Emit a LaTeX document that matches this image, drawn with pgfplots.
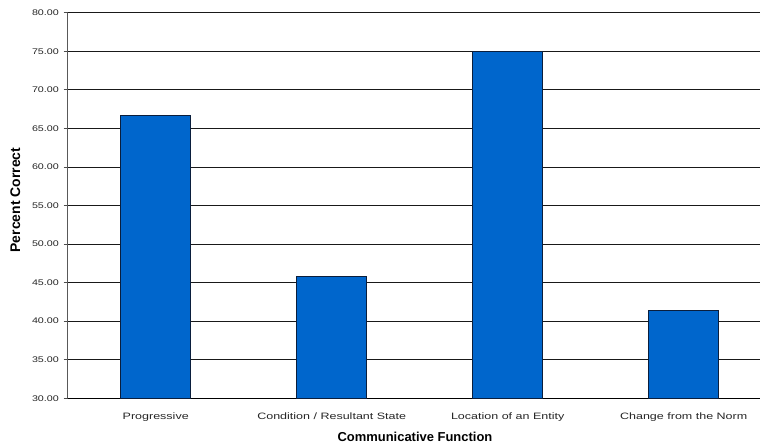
\documentclass[border=0pt]{standalone}
\usepackage{fontspec}
\setmainfont{Liberation Sans}
\newfontfamily\xtickfont[FakeStretch=1.35]{Liberation Sans}
\newfontfamily\ytickfont[FakeStretch=1.31]{Liberation Sans}
\usepackage{pgfplots}
\pgfplotsset{compat=1.18}
\definecolor{barblue}{RGB}{0,102,204}
\definecolor{baredge}{RGB}{10,30,60}
\begin{document}
\begin{tikzpicture}
\begin{axis}[
  scale only axis,
  width=704bp, height=385.6bp,
  xmin=-0.5, xmax=3.5,
  ymin=30, ymax=80,
  ytick={30,35,...,80},
  xtick={0,1,2,3},
  xticklabels={Progressive, Condition / Resultant State, Location of an Entity, Change from the Norm},
  extra x ticks={-0.5,0.5,1.5,2.5,3.5},
  extra x tick labels={},
  extra x tick style={major tick length=3bp, tick style={black!60, line width=0.7pt}, grid=none},
  major x tick style={draw=none},
  axis x line*=bottom,
  axis y line*=left,
  x axis line style={black, line width=0.8pt},
  y axis line style={black!65, line width=1.4pt},
  ytick style={black!70, line width=0.7pt},
  tick align=outside,
  major tick length=4bp,
  ymajorgrids,
  grid style={black!90, line width=0.7pt},
  yticklabel style={font=\ytickfont\fontsize{8.2}{9}\selectfont, text=black!85, anchor=east, inner sep=0pt, xshift=-4.7bp},
  xticklabel style={font=\xtickfont\fontsize{9.3}{10}\selectfont, text=black!85, anchor=base, inner sep=0pt, yshift=-17bp},
  /pgf/number format/assume math mode=true,
  /pgf/number format/.cd, fixed, fixed zerofill, precision=2,
  /pgfplots/.cd,
  xlabel={\textbf{Communicative Function}},
  ylabel={\textbf{Percent Correct}},
  xlabel style={font=\fontsize{13}{14}\selectfont, at={(axis description cs:0.4933,0)}, anchor=base, inner sep=0pt, yshift=-42.7bp},
  ylabel style={font=\fontsize{14}{15}\selectfont, at={(axis description cs:0,0.514)}, anchor=center, inner sep=0pt, yshift=52.4bp},
  clip=false,
]
\addplot[ybar, bar width=70bp, fill=barblue, draw=baredge, line width=0.7pt] coordinates {
  (0,66.67) (1,45.83) (2,75.00) (3,41.38)
};
\end{axis}
\pgfresetboundingbox
\path[use as bounding box] (-67.7bp,-44.7bp) rectangle (692.3bp,398.3bp);
\end{tikzpicture}
\end{document}
